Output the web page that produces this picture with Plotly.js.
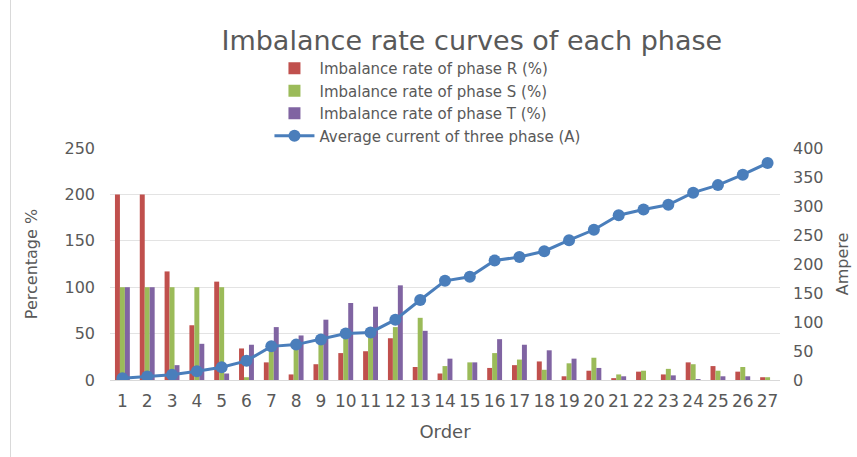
<!DOCTYPE html>
<html><head><meta charset="utf-8">
<script src="https://cdn.plot.ly/plotly-3.0.1.min.js"></script>
<style>html,body{margin:0;padding:0;background:#fff;}#chart{width:857px;height:457px;position:relative;}
#edge{position:absolute;left:10px;top:0;width:1px;height:457px;background:#d9d9d9;}</style>
</head><body>
<div id="chart"></div>
<script>
const orders = ["1","2","3","4","5","6","7","8","9","10","11","12","13","14","15","16","17","18","19","20","21","22","23","24","25","26","27"];
const phaseR = [200,200,117,59,106,34,19,6,17,29,31,45,14,7,0,13,16,20,4,10,2,9,6,19,15,9,3];
const phaseS = [100,100,100,100,100,3,33,40,41,46,46,57,67,15,19,29,22,11,18,24,6,10,12,17,10,14,3];
const phaseT = [100,100,16,39,7,38,57,48,65,83,79,102,53,23,19,44,38,32,23,13,4,0,5,1,4,4,0];
const avgCurrent = [3,6,9,15,22,33,58,61,70,80,82,104,138,171,178,206,212,222,241,259,284,294,302,323,336,354,374];
const names = ["Imbalance rate of phase R (%)","Imbalance rate of phase S (%)","Imbalance rate of phase T (%)","Average current of three phase (A)"];

const FONT = "'DejaVu Sans', sans-serif";
const GREY = "#595959";
const traces = [
  {type:"bar", x:orders, y:phaseR, name:names[0], marker:{color:"#C0504D"}},
  {type:"bar", x:orders, y:phaseS, name:names[1], marker:{color:"#9BBB59"}},
  {type:"bar", x:orders, y:phaseT, name:names[2], marker:{color:"#8064A2"}},
  {type:"scatter", mode:"lines+markers", x:orders, y:avgCurrent, yaxis:"y2", name:names[3],
   line:{color:"#4A7EBB", width:3}, marker:{color:"#4A7EBB", size:12}}
];
const layout = {
  width:857, height:457,
  margin:{l:110, r:77, t:148, b:77},
  paper_bgcolor:"#fff", plot_bgcolor:"#fff",
  font:{family:FONT, color:GREY, size:15},
  title:{text:"Imbalance rate curves of each phase", font:{size:27, color:GREY, family:FONT},
         xref:"paper", x:0.54, xanchor:"center", yref:"container", y:0.912, yanchor:"middle"},
  barmode:"group", bargap:0.4, bargroupgap:0,
  showlegend:true,
  legend:{x:0.238, xanchor:"left", y:1.414, yanchor:"top", orientation:"v",
          font:{size:15, color:GREY, family:FONT}, bgcolor:"rgba(0,0,0,0)", tracegroupgap:0, itemwidth:40},
  xaxis:{type:"category", range:[-0.5, 26.5], autorange:false, showgrid:false, showline:true, linecolor:"#d9d9d9", linewidth:1,
         ticks:"", tickangle:0, tickfont:{size:17, color:GREY}, automargin:false, ticklabelstandoff:6,
         title:{text:"Order", font:{size:18, color:GREY}, standoff:14}},
  yaxis:{range:[0,250], dtick:50, showgrid:true, gridcolor:"#e3e3e3", gridwidth:1, zeroline:false,
         showline:false, ticks:"", tickfont:{size:16, color:GREY}, ticklabelstandoff:14, automargin:false,
         title:{text:"Percentage %", font:{size:16, color:GREY}, standoff:22}},
  yaxis2:{overlaying:"y", side:"right", range:[0,400], dtick:50, showgrid:false, zeroline:false,
          showline:false, ticks:"", tickfont:{size:16, color:GREY}, ticklabelstandoff:12, automargin:false,
          title:{text:"Ampere", font:{size:16, color:GREY}, standoff:14}}
};
Plotly.newPlot("chart", traces, layout, {displayModeBar:false, staticPlot:true}).then(()=>{
  const d=document.createElement("div"); d.id="edge"; document.getElementById("chart").appendChild(d);
});
</script>
</body></html>
